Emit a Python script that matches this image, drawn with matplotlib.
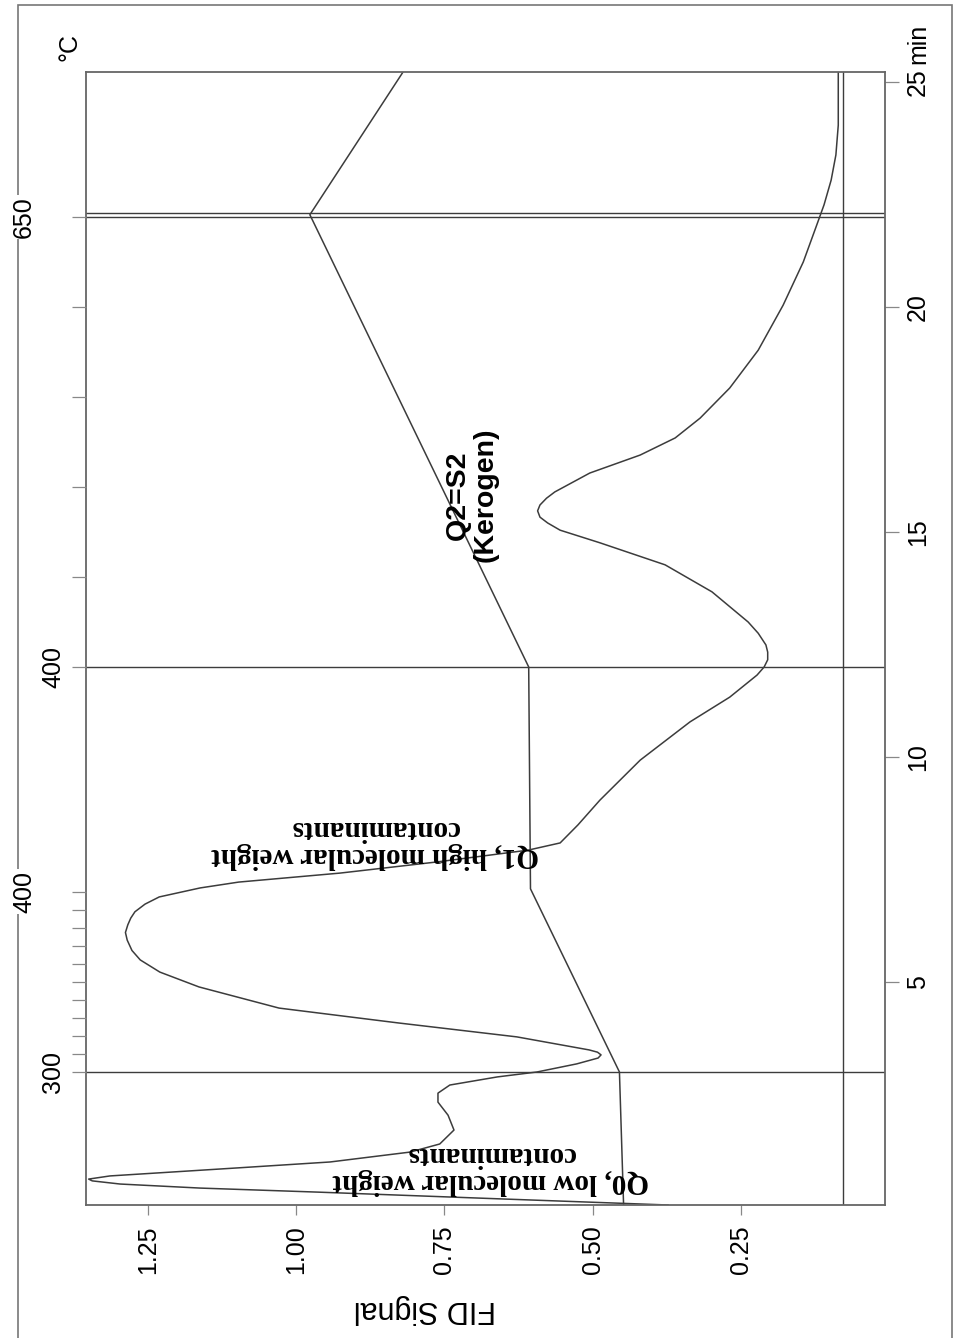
import numpy as np
import matplotlib
matplotlib.use('Agg')
import matplotlib.pyplot as plt
from matplotlib.patches import Rectangle

plt.rcParams['font.family'] = ['Liberation Sans', 'DejaVu Sans']

# FID signal trace (time in min, signal)
fid_time = [0.044, 0.18, 0.33, 0.42, 0.51, 0.58, 0.62, 0.69, 0.87, 1.0, 1.22, 1.4,
            1.71, 2.04, 2.33, 2.53, 2.71, 2.89, 3.0, 3.18, 3.31, 3.38, 3.44, 3.49, 3.78,
            4.09, 4.42, 4.89, 5.22, 5.49, 5.7, 5.93, 6.1, 6.27, 6.42, 6.56, 6.73, 6.89,
            7.09, 7.22, 7.42, 7.67, 7.93, 8.09, 8.49, 9.04, 9.93, 10.78, 11.33, 11.82,
            12.0, 12.16, 12.33, 12.49, 12.75, 13.0, 13.67, 14.27, 14.76, 15.04, 15.2,
            15.33, 15.47, 15.6, 15.75, 15.89, 16.31, 16.71, 17.09, 17.53, 18.2, 19.04,
            20.04, 21.0, 21.76, 22.27, 22.82, 23.38, 24.04, 24.71, 25.22]
fid_signal = [0.373, 0.656, 0.963, 1.162, 1.297, 1.344, 1.350, 1.314, 1.097, 0.943,
              0.808, 0.758, 0.734, 0.744, 0.761, 0.761, 0.741, 0.661, 0.594, 0.527,
              0.491, 0.486, 0.492, 0.506, 0.628, 0.828, 1.029, 1.164, 1.230, 1.263,
              1.277, 1.285, 1.288, 1.284, 1.279, 1.272, 1.255, 1.231, 1.162, 1.097,
              0.926, 0.761, 0.609, 0.555, 0.525, 0.488, 0.420, 0.336, 0.269, 0.223,
              0.211, 0.205, 0.205, 0.208, 0.221, 0.238, 0.299, 0.378, 0.488, 0.555,
              0.576, 0.589, 0.593, 0.589, 0.578, 0.564, 0.505, 0.420, 0.361, 0.319,
              0.269, 0.221, 0.179, 0.145, 0.124, 0.110, 0.098, 0.090, 0.086, 0.086,
              0.086]

# oven temperature trace drawn in signal units
trace_time = [0.044, 3.0, 7.07, 12.0, 22.05, 25.22]
trace_signal = [0.448, 0.455, 0.605, 0.608, 0.977, 0.820]

# event lines
event_times = [3.0, 12.0, 22.0, 22.09]
base_level = 0.078

signal_ticks = [1.25, 1.00, 0.75, 0.50, 0.25]
signal_labels = ['1.25', '1.00', '0.75', '0.50', '0.25']
time_ticks = [5, 10, 15, 20, 25]
time_labels = ['5', '10', '15', '20', '25']

# temperature programme: 300 -> 400 from 3 min, 400 -> 650 from 12 min, 25 C/min
ramp1_temps = [300, 310, 320, 330, 340, 350, 360, 370, 380, 390, 400]
ramp2_temps = [400, 450, 500, 550, 600, 650]
ramp1_start, ramp2_start, rate = 3.0, 12.0, 25.0
temp_label_times = [3.0, 7.0, 12.0, 22.0]
temp_labels = ['300', '400', '400', '650']

temp_tick_times = [ramp1_start + (t - 300) / rate for t in ramp1_temps] + \
                  [ramp2_start + (t - 400) / rate for t in ramp2_temps]

line_col = '#3c3c3c'

fig = plt.figure(figsize=(9.59, 13.38), dpi=100)
fig.add_artist(Rectangle((18 / 959, -0.01), (952 - 18) / 959, 1 - 5 / 1338 + 0.01,
                         transform=fig.transFigure, fill=False, edgecolor='#777777',
                         lw=1.2, zorder=-1))

ax = fig.add_axes([86 / 959, 1 - 1205 / 1338, (885 - 86) / 959, (1205 - 72) / 1338])
ax2 = ax.twinx()

ax.plot(fid_signal, fid_time, color=line_col, lw=1.1)
ax.plot(trace_signal, trace_time, color=line_col, lw=1.1)
for t in event_times:
    ax.axhline(t, color=line_col, lw=1.0)
ax.axvline(base_level, color=line_col, lw=1.0)

ax.set_xlim(1.3545, 0.0072)
ax.set_ylim(0.044, 25.222)

for s in ax.spines.values():
    s.set_color('#666666')
    s.set_linewidth(1.3)

ax.set_xticks(signal_ticks)
ax.set_xticklabels(signal_labels, rotation=90, ha='center', va='top')
ax.tick_params(axis='x', direction='out', length=7.5, width=0.9, color='#888888',
               pad=7, labelsize=18)

ax.yaxis.tick_right()
ax.set_yticks(time_ticks)
ax.set_yticklabels(time_labels, rotation=90, ha='left', va='center')
ax.tick_params(axis='y', direction='out', length=10, width=0.9, color='#888888',
               pad=5, labelsize=18, left=False, labelleft=False,
               right=True, labelright=True)

ax2.set_ylim(ax.get_ylim())
ax2.yaxis.tick_left()
ax2.set_yticks(temp_tick_times)
ax2.set_yticklabels([])
ax2.tick_params(axis='y', direction='out', length=10, width=0.9, color='#888888',
                left=True, right=False, labelright=False)
for s in ax2.spines.values():
    s.set_visible(False)

label_x = [-0.0413, -0.0776, -0.0413, -0.0776]
for t, lab, xf in zip(temp_label_times, temp_labels, label_x):
    fig.text(xf, t, lab, transform=ax.get_yaxis_transform(),
             rotation=90, ha='center', va='center', fontsize=18, zorder=5,
             bbox=dict(facecolor='white', edgecolor='none', pad=1))

fig.text(70 / 959, 1 - 47 / 1338, '°C', rotation=90, ha='center', va='center', fontsize=18)
fig.text(918 / 959, 1 - 44 / 1338, 'min', rotation=90, ha='center', va='center', fontsize=18)
fig.text(425 / 959, 1 - 1309 / 1338, 'FID Signal', rotation=180, ha='center',
         va='center', fontsize=22)

serif = ['Liberation Serif', 'DejaVu Serif']
ax.text(0.672, 0.87, 'Q0, low molecular weight\ncontaminants', rotation=180,
        ha='center', va='center', multialignment='center', fontsize=21,
        fontweight='bold', family=serif, linespacing=1.0)
ax.text(0.867, 8.11, 'Q1, high molecular weight\ncontaminants', rotation=180,
        ha='center', va='center', multialignment='center', fontsize=21,
        fontweight='bold', family=serif, linespacing=1.0)
ax.text(0.704, 15.82, 'Q2=S2\n(Kerogen)', rotation=90, ha='center', va='center',
        multialignment='center', fontsize=20.5, fontweight='bold', linespacing=1.05)

fig.savefig('out.png', dpi=100, facecolor='white')
